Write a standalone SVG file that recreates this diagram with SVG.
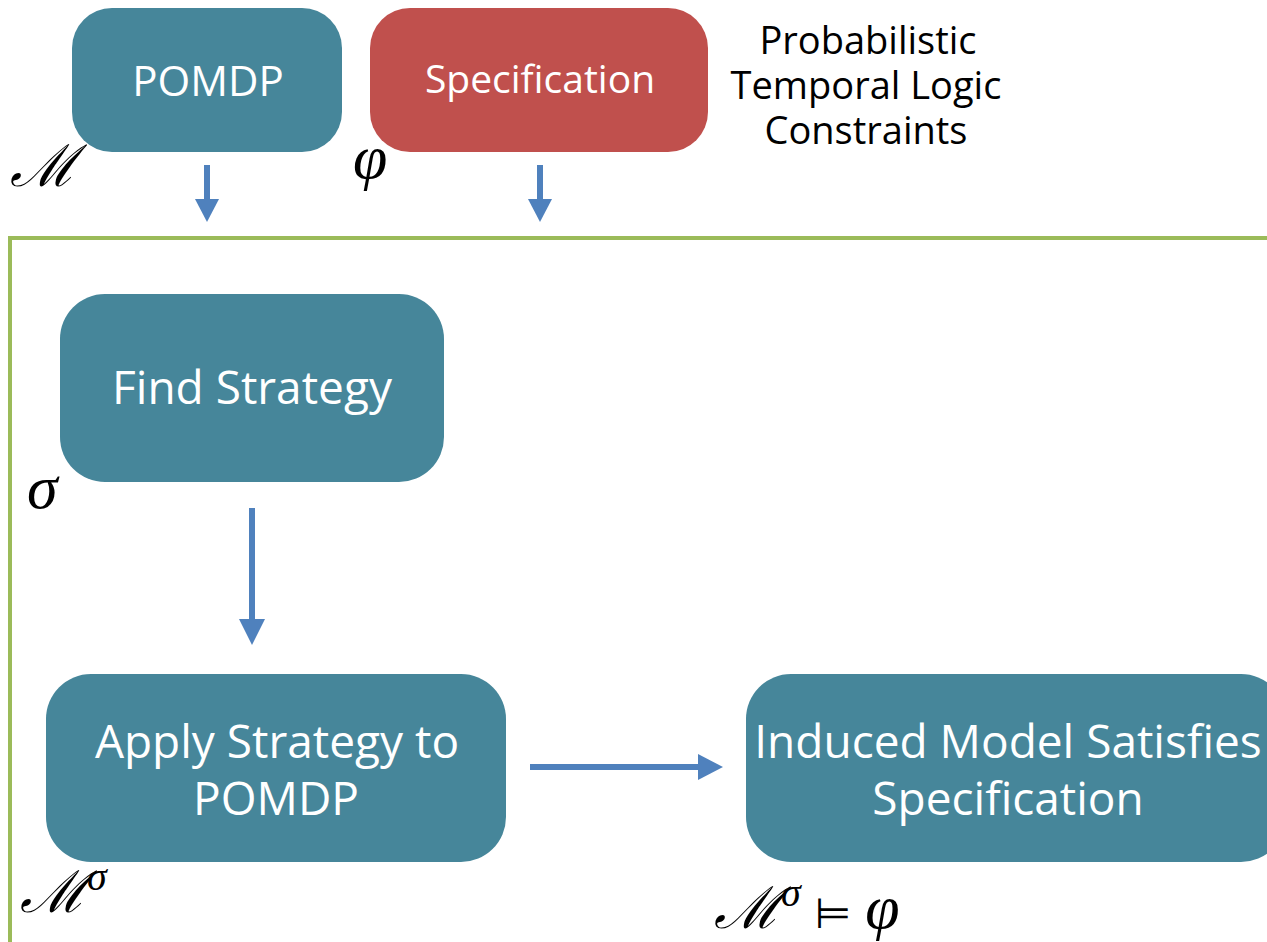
<svg xmlns="http://www.w3.org/2000/svg" width="1267" height="942" viewBox="0 0 1267 942">
<style>
.box{fill:#46869A}
.red{fill:#C0504D}
.lbl{font-family:"Open Sans","DejaVu Sans",sans-serif;fill:#fff;text-anchor:middle}
.blk{font-family:"Open Sans","DejaVu Sans",sans-serif;fill:#000;text-anchor:middle;font-size:38px}
.math{font-family:"Liberation Serif","DejaVu Serif",serif;font-style:italic;fill:#000}
.arr{stroke:#4F81BD;stroke-width:6;fill:none}
.head{fill:#4F81BD}
.frame{stroke:#9BBB59;stroke-width:4;fill:none}
</style>
<rect width="1267" height="942" fill="#fff"/>
<g id="frame"><path class="frame" d="M10 942 V238 H1267"/></g>
<g id="pomdp"><rect class="box" x="72" y="8" width="270" height="144" rx="40"/><text class="lbl" x="208" y="96" font-size="42">POMDP</text></g>
<g id="spec"><rect class="red" x="370" y="8" width="338" height="144" rx="40"/><text class="lbl" x="540" y="93" font-size="39">Specification</text></g>
<g id="ptlc"><text class="blk" x="868" y="54">Probabilistic<tspan x="866" dy="45">Temporal Logic</tspan><tspan x="866" dy="45">Constraints</tspan></text></g>
<g id="find"><rect class="box" x="60" y="294" width="384" height="188" rx="45"/><text class="lbl" x="252" y="404" font-size="46">Find Strategy</text></g>
<g id="apply"><rect class="box" x="46" y="674" width="460" height="188" rx="45"/><text class="lbl" x="277" y="758" font-size="46">Apply Strategy to<tspan x="276" dy="57">POMDP</tspan></text></g>
<g id="induced"><rect class="box" x="746" y="674" width="540" height="188" rx="45"/><text class="lbl" x="1008" y="758" font-size="46">Induced Model Satisfies<tspan x="1008" dy="57">Specification</tspan></text></g>
<g id="labels">
<text class="math" x="10" y="186" font-size="58">ℳ</text>
<text class="math" x="353" y="178" font-size="62">φ</text>
<text class="math" x="27" y="508" font-size="62">σ</text>
<text class="math" x="20" y="912" font-size="58">ℳ<tspan dy="-22" font-size="40">σ</tspan></text>
<text class="math" x="714" y="928" font-size="58">ℳ<tspan dy="-22" font-size="40">σ</tspan><tspan dy="22" font-style="normal" font-family="DejaVu Sans,sans-serif" font-size="42" dx="14">⊨</tspan><tspan dx="14" font-size="62">φ</tspan></text>
</g>
<g id="connectors">
<line class="arr" x1="207" y1="165" x2="207" y2="200"/><polygon class="head" points="195,199 219,199 207,222"/>
<line class="arr" x1="540" y1="165" x2="540" y2="200"/><polygon class="head" points="528,199 552,199 540,222"/>
<line class="arr" x1="252" y1="508" x2="252" y2="620"/><polygon class="head" points="239,619 265,619 252,645"/>
<line class="arr" x1="530" y1="767" x2="700" y2="767"/><polygon class="head" points="698,754 698,780 723,767"/>
</g>
</svg>
